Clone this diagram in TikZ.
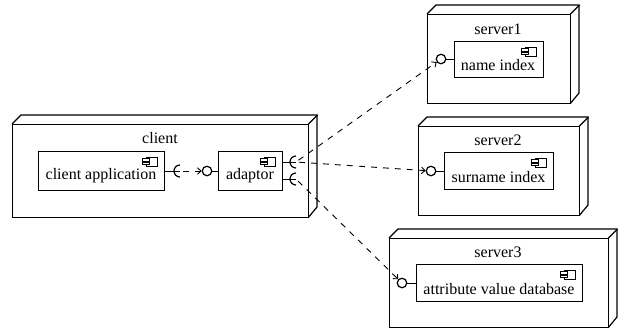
\documentclass[tikz,border=0pt]{standalone}
\usepackage{fontspec}
\setmainfont{Liberation Serif}
\usetikzlibrary{arrows.meta,calc}
\tikzset{
  x=1pt,y=-1pt,
  line width=1pt,
  lolly/.style={draw,circle,inner sep=0pt,minimum size=9.5pt,line width=1.2pt,fill=white},
  lbl/.style={inner sep=0pt,font=\fontsize{16pt}{18pt}\selectfont},
  dep/.style={dash pattern=on 6pt off 6pt,-{Straight Barb[length=3.5pt,width=6.5pt]},line width=0.9pt},
}
% #1 name, #2 left, #3 top, #4 right, #5 bottom : 3-D deployment node
\newcommand{\depnode}[5]{%
  \node[draw,inner sep=0pt,anchor=north west,minimum width=#4pt-#2pt,minimum height=#5pt-#3pt] (#1) at (#2,#3) {};
  \draw[line width=1.2pt] (#1.north west) -- ++(9,-9) -- ++(#4-#2,0) -- ++(0,#5-#3-1) -- (#1.south east);
  \draw[line width=1.2pt] (#1.north east) -- ++(9,-9);
}
% #1 name, #2 left, #3 top, #4 right, #5 bottom : component box with icon
\newcommand{\compbox}[5]{%
  \node[draw,inner sep=0pt,anchor=north west,minimum width=#4pt-#2pt,minimum height=#5pt-#3pt] (#1) at (#2,#3) {};
  \draw[line width=0.9pt] ([xshift=-18pt,yshift=-6pt]#1.north east) rectangle ++(11pt,-9pt);
  \draw[line width=0.9pt,fill=white] ([xshift=-22pt,yshift=-7.5pt]#1.north east) rectangle ++(7pt,-2.6pt);
  \draw[line width=0.9pt,fill=white] ([xshift=-22pt,yshift=-11pt]#1.north east) rectangle ++(7pt,-2.6pt);
}
\newcommand{\sock}[1]{\draw[line width=1.2pt] (#1) ++(0,-6) arc[start angle=90,end angle=270,radius=6pt];}
\begin{document}
\begin{tikzpicture}
\useasboundingbox (0,0) rectangle (621,332);
\depnode{client}{12}{124}{308}{217}
\compbox{app}{38}{151}{164}{190}
\compbox{adaptor}{218}{151}{282}{190}
\depnode{srvA}{427}{14}{570}{103}
\compbox{nameidx}{454}{41}{543}{77}
\depnode{srvB}{418}{126}{579}{215}
\compbox{surnameidx}{444}{152}{553}{189}
\depnode{srvC}{389}{238}{608}{327}
\compbox{attridx}{416}{264}{582}{301}

\node[lbl] (tclient) at (160,138) {client};
\node[lbl] (tapp) at (101,175.5) {client application};
\node[lbl] (tadaptor) at (250,176) {adaptor};
\node[lbl] (tsrvA) at (498,29) {server1};
\node[lbl] (tname) at (498,65) {name index};
\node[lbl] (tsrvB) at (498,140) {server2};
\node[lbl] (tsurname) at (498.5,177) {surname index};
\node[lbl] (tsrvC) at (498,252) {server3};
\node[lbl] (tattr) at (499,289) {attribute value database};

% provided interfaces
\node[lolly] (pAdaptor) at (207,171) {};
\node[lolly] (pName) at (441,59) {};
\node[lolly] (pSurname) at (431,171) {};
\node[lolly] (pAttr) at (402,283) {};
\draw (pAdaptor) -- (pAdaptor-|adaptor.west);
\draw (pName) -- (pName-|nameidx.west);
\draw (pSurname) -- (pSurname-|surnameidx.west);
\draw (pAttr) -- (pAttr-|attridx.west);

% required interfaces
\coordinate (rApp) at (180,171);
\coordinate (rA) at (296,162);
\coordinate (rB) at (296,179);
\draw (rApp-|app.east) -- (rApp);
\draw (rA-|adaptor.east) -- (rA);
\draw (rB-|adaptor.east) -- (rB);
\sock{rApp}
\sock{rA}
\sock{rB}

% dependencies
\draw[dep,dash phase=9pt] (rApp) -- (pAdaptor);
\draw[dep,dash phase=9pt] (rA) -- (pName);
\draw[dep,dash phase=9pt] (rA) -- (pSurname);
\draw[dep,dash phase=9pt] (rB) -- (pAttr);
\end{tikzpicture}
\end{document}
